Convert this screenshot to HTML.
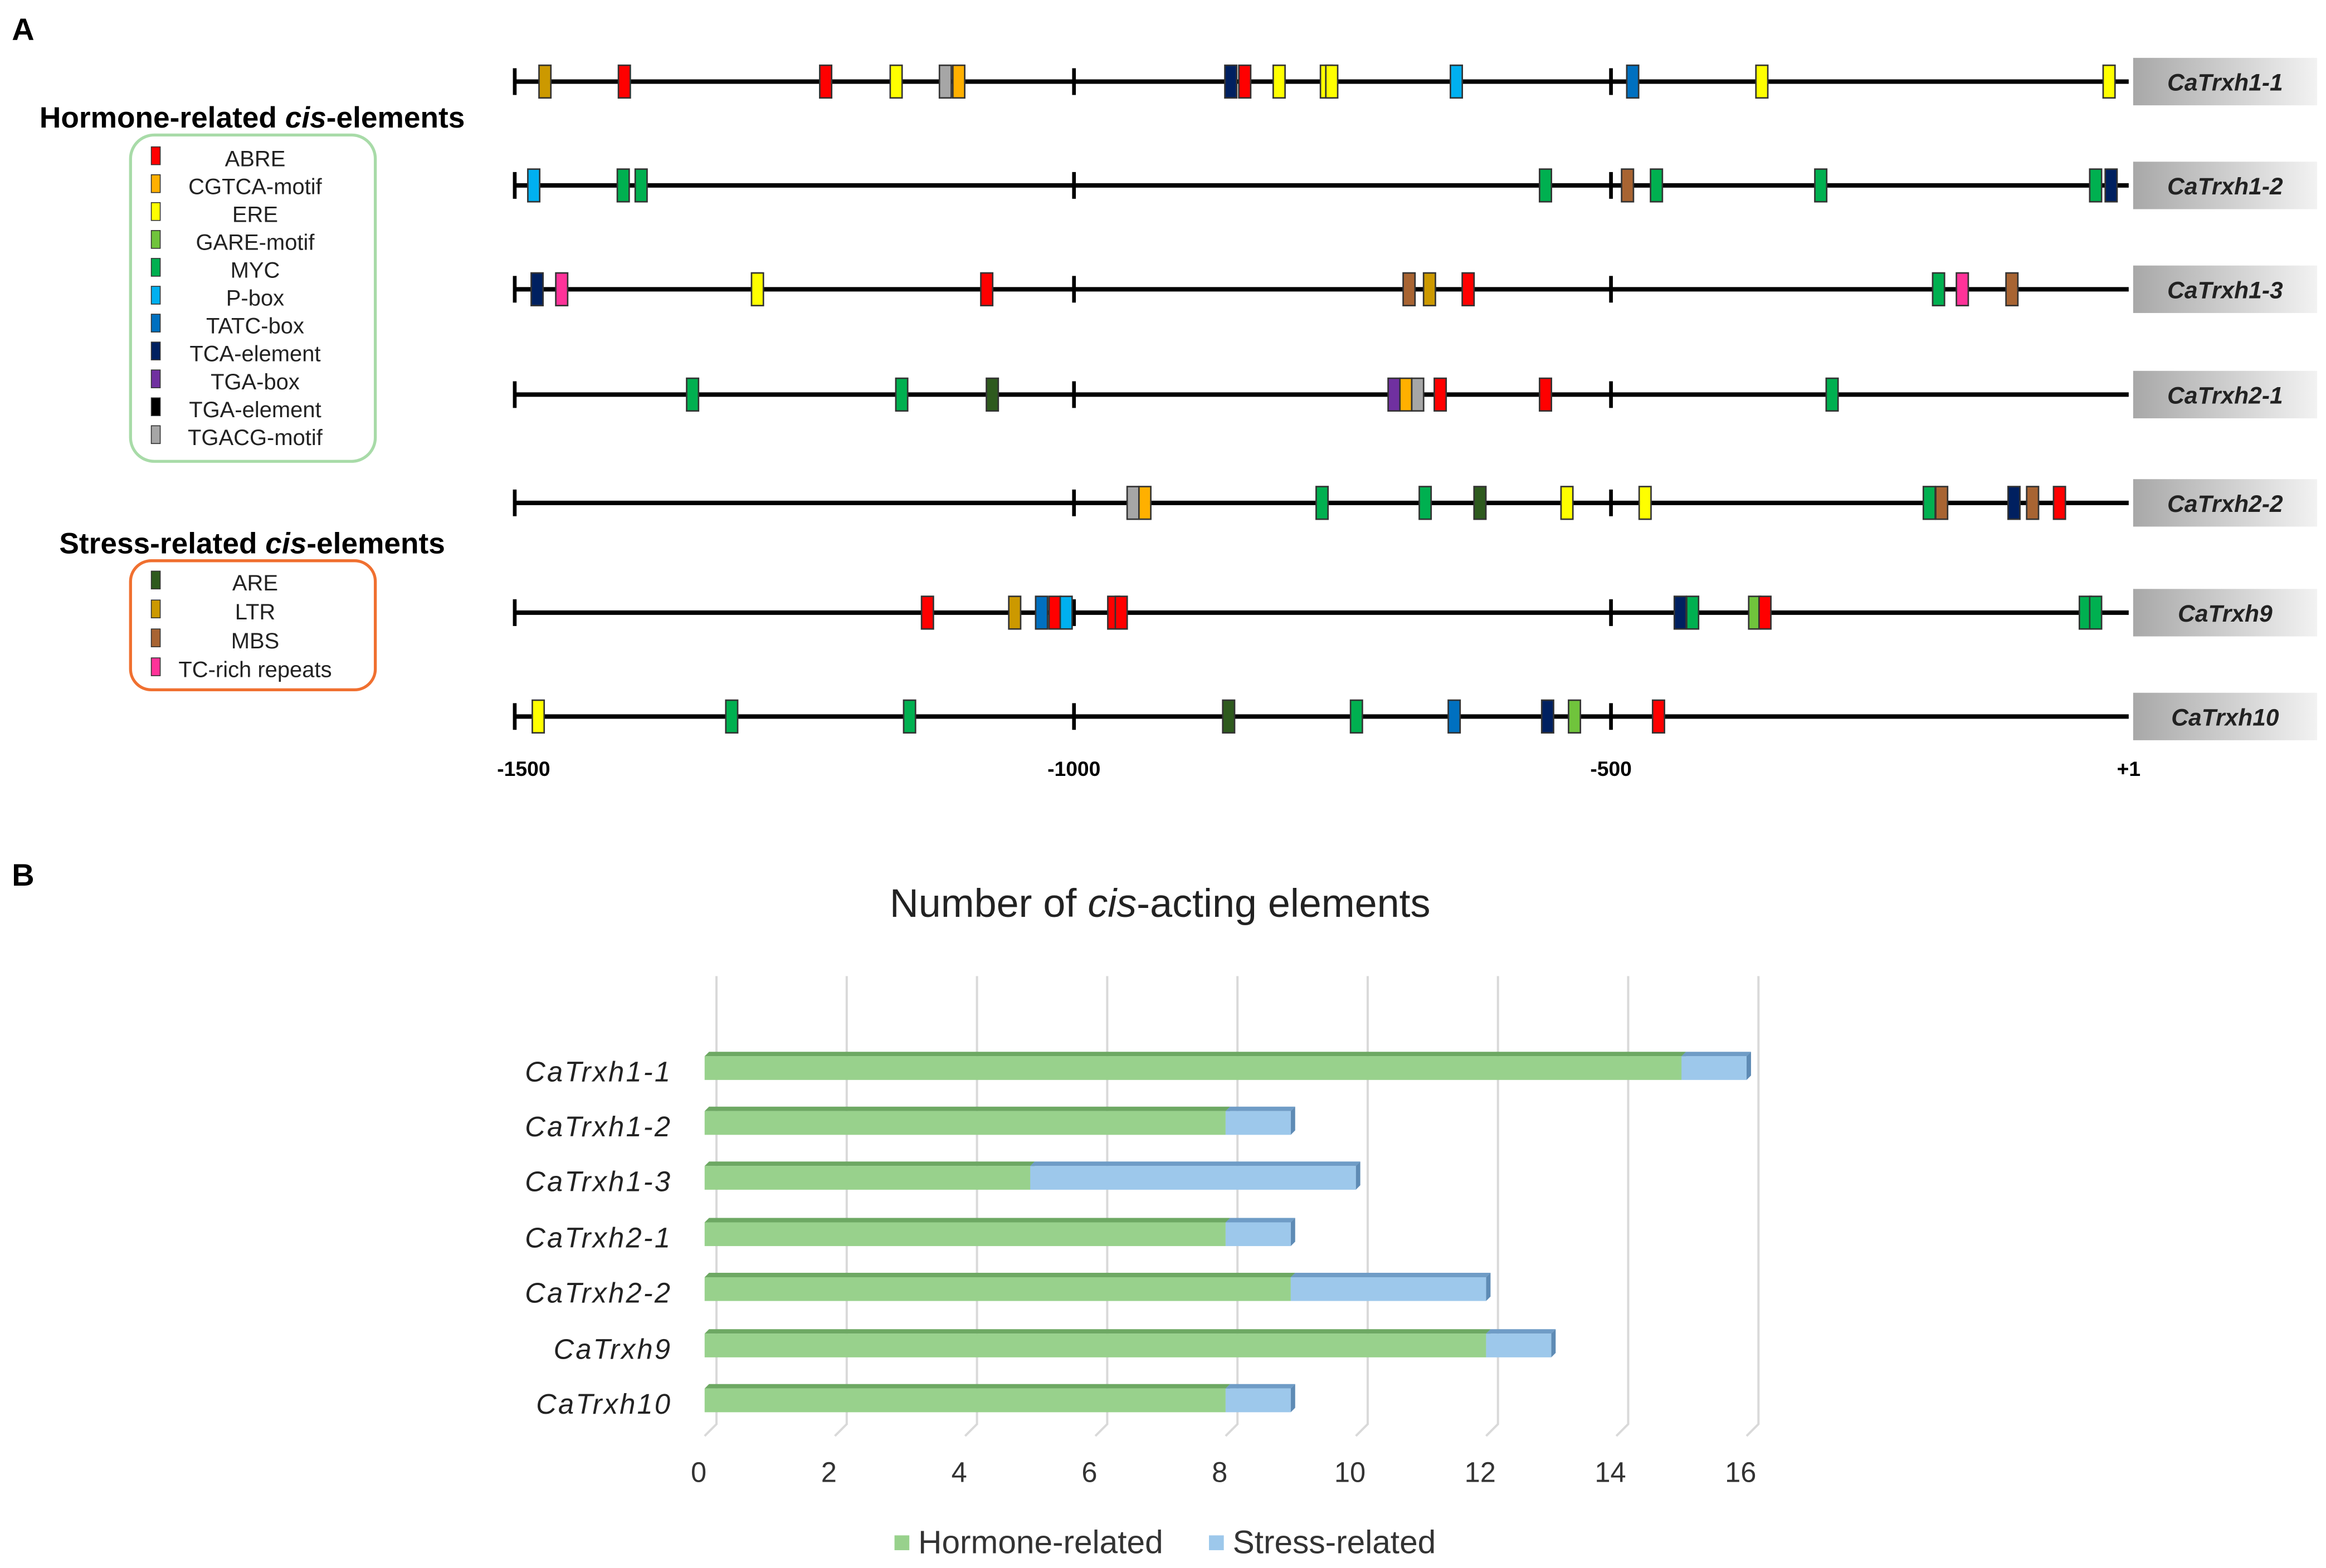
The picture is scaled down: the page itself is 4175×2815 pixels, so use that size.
<!DOCTYPE html>
<html><head><meta charset="utf-8"><style>
html,body{margin:0;padding:0;background:#fff;}
svg{display:block;font-family:"Liberation Sans",Arial,sans-serif;}
</style></head><body>
<svg id="fig" width="4175" height="2815" viewBox="0 0 1568 1057" preserveAspectRatio="none">
<defs>
<linearGradient id="lg" x1="0" x2="1"><stop offset="0" stop-color="#a8a8a8"/><stop offset="1" stop-color="#f2f2f2"/></linearGradient>
</defs>
<text x="8" y="27" font-size="21" font-weight="bold">A</text>
<text x="8" y="597" font-size="21" font-weight="bold">B</text>
<g id="legendA"></g>
<g id="panelA"></g>
<g id="panelB"></g>
</svg>
<script>
const NS="http://www.w3.org/2000/svg";
const genes=["CaTrxh1-1","CaTrxh1-2","CaTrxh1-3","CaTrxh2-1","CaTrxh2-2","CaTrxh9","CaTrxh10"];
const hormoneTypes=["ABRE","CGTCA-motif","ERE","GARE-motif","MYC","P-box","TATC-box","TCA-element","TGA-box","TGA-element","TGACG-motif"];
const stressTypes=["ARE","LTR","MBS","TC-rich repeats"];
const typeColors={"ABRE":"#ff0000","CGTCA-motif":"#ffb000","ERE":"#ffff00","GARE-motif":"#70c43c","MYC":"#00b050","P-box":"#00b0f0","TATC-box":"#0070c0","TCA-element":"#002060","TGA-box":"#7030a0","TGA-element":"#000000","TGACG-motif":"#a6a6a6","ARE":"#2e5a1e","LTR":"#cc9900","MBS":"#a86432","TC-rich repeats":"#ff3399"};
const axisTicks=[-1500,-1000,-500,1];
const axisTickLabels=["-1500","-1000","-500","+1"];
const row1Pos=[-1473,-1402,-1222,-1159,-1115,-1103,-854,-841,-809,-765,-760,-644,-479,-354,-18];
const row1Type=["LTR","ABRE","ABRE","ERE","TGACG-motif","CGTCA-motif","TCA-element","ABRE","ERE","ERE","ERE","P-box","TATC-box","ERE","ERE"];
const row2Pos=[-1483,-1403,-1387,-561,-484,-456,-297,-31,-16];
const row2Type=["P-box","MYC","MYC","MYC","MBS","MYC","MYC","MYC","TCA-element"];
const row3Pos=[-1480,-1458,-1283,-1078,-688,-669,-633,-183,-160,-112];
const row3Type=["TCA-element","TC-rich repeats","ERE","ABRE","MBS","LTR","ABRE","MYC","TC-rich repeats","MBS"];
const row4Pos=[-1341,-1154,-1073,-702,-691,-680,-659,-561,-286];
const row4Type=["MYC","MYC","ARE","TGA-box","CGTCA-motif","TGACG-motif","ABRE","ABRE","MYC"];
const row5Pos=[-945,-934,-769,-673,-622,-541,-467,-192,-180,-110,-92,-66];
const row5Type=["TGACG-motif","CGTCA-motif","MYC","MYC","ARE","ERE","ERE","MYC","MBS","TCA-element","MBS","ABRE"];
const row6Pos=[-1131,-1053,-1029,-1017,-1007,-963,-956,-433,-421,-361,-351,-41,-31];
const row6Type=["ABRE","LTR","TATC-box","ABRE","P-box","ABRE","ABRE","TCA-element","MYC","GARE-motif","ABRE","MYC","MYC"];
const row7Pos=[-1479,-1306,-1147,-856,-737,-646,-559,-534,-454];
const row7Type=["ERE","MYC","MYC","ARE","MYC","TATC-box","TCA-element","GARE-motif","ABRE"];
const rowsPos=[row1Pos,row2Pos,row3Pos,row4Pos,row5Pos,row6Pos,row7Pos];
const rowsType=[row1Type,row2Type,row3Type,row4Type,row5Type,row6Type,row7Type];
// chart B
const barGenes=["CaTrxh1-1","CaTrxh1-2","CaTrxh1-3","CaTrxh2-1","CaTrxh2-2","CaTrxh9","CaTrxh10"];
const hormoneCounts=[15,8,5,8,9,12,8];
const stressCounts=[1,1,5,1,3,1,1];
const xTicks=[0,2,4,6,8,10,12,14,16];

function el(tag,attrs,parent,txt){const e=document.createElementNS(NS,tag);for(const k in attrs)e.setAttribute(k,attrs[k]);if(txt!==undefined)e.textContent=txt;parent.appendChild(e);return e;}
const tickPx=[347,724,1086,1435];
function xA(bp){for(let i=0;i<3;i++){if(bp<=axisTicks[i+1]||i==2){return tickPx[i]+(bp-axisTicks[i])*(tickPx[i+1]-tickPx[i])/(axisTicks[i+1]-axisTicks[i]);}}}
const rowY=[55,125,195,266,339,413,483];
const pA=document.getElementById('panelA');
genes.forEach((g,i)=>{
  const y=rowY[i];
  const row=el('g',{},pA);
  
  
  const ln=el('line',{x1:xA(-1500),x2:xA(1),y1:y,y2:y,stroke:'#000','stroke-width':3},row);
  
  
  axisTicks.slice(0,3).forEach(t=>{
    const tk=el('line',{x1:xA(t),x2:xA(t),y1:y-9,y2:y+9,stroke:'#000','stroke-width':2.5},row);
    
    
  });
  rowsPos[i].forEach((p,j)=>{
    const r=el('rect',{x:xA(p)-4,y:y-11,width:8,height:22,fill:typeColors[rowsType[i][j]],stroke:'#333','stroke-width':1},row);
    
    
  });
  const lb=el('rect',{x:1438,y:y-16,width:124,height:32,fill:'url(#lg)'},row);
  
  
  const lt=el('text',{x:1500,y:y+6,'font-size':16,'font-weight':'bold','font-style':'italic','text-anchor':'middle',fill:'#222'},row,g);
  
  
});
axisTicks.forEach((t,i)=>{
  const tx=el('text',{x:xA(t)+(i==0?6:0),y:523,'font-size':14,'font-weight':'bold','text-anchor':'middle'},pA,axisTickLabels[i]);
  
  
});
const lA=document.getElementById('legendA');
function legendTitle(x,y,before,it,after,name){
  const t=el('text',{x:x,y:y,'font-size':20,'font-weight':'bold','text-anchor':'middle'},lA);
  
  
  el('tspan',{},t,before);el('tspan',{'font-style':'italic'},t,it);el('tspan',{},t,after);
}
legendTitle(170,86,'Hormone-related ','cis','-elements','hormone-legend-title');
legendTitle(170,373,'Stress-related ','cis','-elements','stress-legend-title');
const hb=el('rect',{x:88,y:91,width:165,height:220,rx:16,fill:'none',stroke:'#a8dba8','stroke-width':2},lA);


const sb=el('rect',{x:88,y:378,width:165,height:87,rx:14,fill:'none',stroke:'#f07030','stroke-width':2},lA);


function legendEntries(list,y0,step){
  list.forEach((t,i)=>{
    const y=y0+i*step;
    const g=el('g',{},lA);
    
    
    el('rect',{x:102,y:y-13,width:6,height:12,fill:typeColors[t],stroke:'#333','stroke-width':0.6},g);
    el('text',{x:172,y:y,'font-size':15,'text-anchor':'middle',fill:'#222'},g,t);
  });
}
legendEntries(hormoneTypes,112,18.8);
legendEntries(stressTypes,398,19.5);
const pB=document.getElementById('panelB');
const tt=el('text',{x:782,y:618,'font-size':27,'text-anchor':'middle',fill:'#222'},pB);


el('tspan',{},tt,'Number of ');el('tspan',{'font-style':'italic'},tt,'cis');el('tspan',{},tt,'-acting elements');
function xB(v){return 475+43.9*v;}
const barY=[720,757,794,832,869,907,944];
xTicks.forEach(v=>{
  const g=el('polyline',{points:`${xB(v)+8},658 ${xB(v)+8},960 ${xB(v)},968`,fill:'none',stroke:'#d9d9d9','stroke-width':1.5},pB);
  
  
  const t=el('text',{x:xB(v)-4,y:999,'font-size':19,'text-anchor':'middle',fill:'#333'},pB,String(v));
  
  
});
function bar3d(x0,x1,y,front,top,side,name){
  const g=el('g',{},pB);
  
  
  el('polygon',{points:`${x0},${y-8} ${x0+3},${y-11} ${x1+3},${y-11} ${x1},${y-8}`,fill:top},g);
  el('polygon',{points:`${x1},${y-8} ${x1+3},${y-11} ${x1+3},${y+5} ${x1},${y+8}`,fill:side},g);
  el('rect',{x:x0,y:y-8,width:x1-x0,height:16,fill:front},g);
}
barGenes.forEach((g,i)=>{
  const y=barY[i];
  const lab=el('text',{x:453,y:y+9,'font-size':19,'font-style':'italic','text-anchor':'end',fill:'#222','letter-spacing':'1.2'},pB,g);
  
  
  bar3d(xB(0),xB(hormoneCounts[i]),y,'#98d18c','#6da863','#6da863','bar-hormone-'+g.toLowerCase());
  bar3d(xB(hormoneCounts[i]),xB(hormoneCounts[i]+stressCounts[i]),y,'#9dc8eb','#6f9cc6','#5e8bb5','bar-stress-'+g.toLowerCase());
});
const lg1=el('g',{},pB);


el('rect',{x:603,y:1035,width:10,height:10,fill:'#98d18c'},lg1);
el('text',{x:619,y:1047,'font-size':22,fill:'#333'},lg1,'Hormone-related');
const lg2=el('g',{},pB);


el('rect',{x:815,y:1035,width:10,height:10,fill:'#9dc8eb'},lg2);
el('text',{x:831,y:1047,'font-size':22,fill:'#333'},lg2,'Stress-related');
</script>
</body></html>
